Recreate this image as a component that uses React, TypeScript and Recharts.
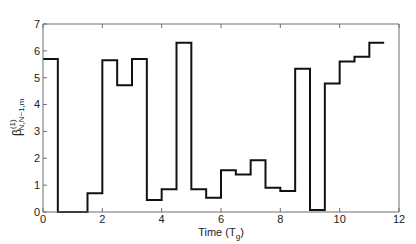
import { LineChart, Line, XAxis, YAxis, Label } from "recharts";

// step start times (T_g) and the level held until the next step
const STEP_TIMES = [0, 0.5, 1, 1.5, 2, 2.5, 3, 3.5, 4, 4.5, 5, 5.5, 6, 6.5, 7, 7.5, 8, 8.5, 9, 9.5, 10, 10.5, 11, 11.5];
const BETA = [5.7, 0, 0, 0.7, 5.65, 4.72, 5.7, 0.45, 0.85, 6.3, 0.85, 0.53, 1.55, 1.4, 1.93, 0.9, 0.78, 5.33, 0.07, 4.78, 5.6, 5.78, 6.3, 6.3];

const X_TICKS = [0, 2, 4, 6, 8, 10, 12];
const Y_TICKS = [0, 1, 2, 3, 4, 5, 6, 7];

const data = STEP_TIMES.map((t, i) => ({ t, beta: BETA[i] }));

const FONT = "'Liberation Sans', Arial, Helvetica, sans-serif";
const AXIS = "#6e6e6e";
const TICK_TEXT = { fontSize: 11, fill: "#222", fontFamily: FONT };

function YLabel() {
  return (
    <text transform="translate(21,136) rotate(-90)" fontFamily={FONT} fill="#222" fontSize={12}>
      <tspan>β</tspan>
      <tspan fontSize={8} dy={-6}>(1)</tspan>
      <tspan fontSize={8} dx={-11} dy={9}>N,N−1,m</tspan>
    </text>
  );
}

function XLabel() {
  return (
    <text x={221} y={236} textAnchor="middle" fontFamily={FONT} fill="#222" fontSize={11}>
      <tspan>Time (T</tspan>
      <tspan fontSize={8} dy={3}>g</tspan>
      <tspan dy={-3}>)</tspan>
    </text>
  );
}

export default function App() {
  return (
    <div style={{ position: "absolute", left: 0, top: 0, background: "#fff" }}>
      <LineChart width={416} height={244} data={data} margin={{ top: 23, right: 16, left: 0, bottom: 0 }}>
        <XAxis
          xAxisId="b"
          dataKey="t"
          type="number"
          domain={[0, 12]}
          ticks={X_TICKS}
          height={32}
          stroke={AXIS}
          tickSize={-4}
          tickMargin={7}
          tick={TICK_TEXT}
          interval={0}
        >
          <Label content={() => <XLabel />} />
        </XAxis>
        <XAxis
          xAxisId="t"
          orientation="top"
          dataKey="t"
          type="number"
          domain={[0, 12]}
          ticks={X_TICKS}
          height={1}
          stroke={AXIS}
          tickSize={-4}
          tickFormatter={() => ""}
          interval={0}
        />
        <YAxis
          yAxisId="l"
          type="number"
          domain={[0, 7]}
          ticks={Y_TICKS}
          width={43}
          stroke={AXIS}
          tickSize={-4}
          tickMargin={7}
          tick={TICK_TEXT}
          interval={0}
        >
          <Label content={() => <YLabel />} />
        </YAxis>
        <YAxis
          yAxisId="r"
          orientation="right"
          type="number"
          domain={[0, 7]}
          ticks={Y_TICKS}
          width={1}
          stroke={AXIS}
          tickSize={-4}
          tickFormatter={() => ""}
          interval={0}
        />
        <Line
          xAxisId="b"
          yAxisId="l"
          dataKey="beta"
          type="stepAfter"
          stroke="#111"
          strokeWidth={2}
          dot={false}
          isAnimationActive={false}
        />
      </LineChart>
    </div>
  );
}
